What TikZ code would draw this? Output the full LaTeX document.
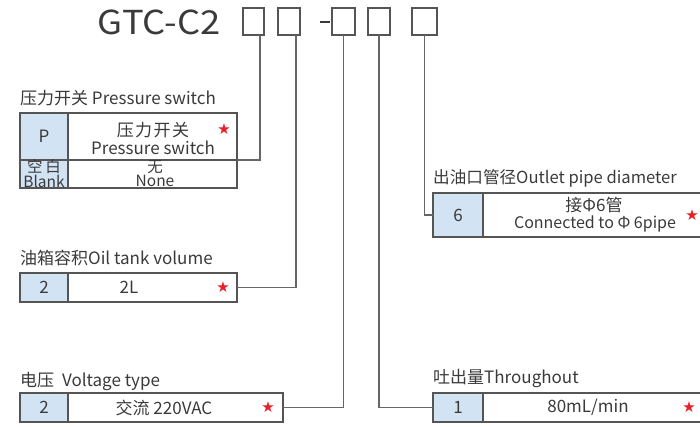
\documentclass[tikz,border=0pt]{standalone}
\usepackage{fontspec}
\setmainfont{Noto Sans CJK SC}
\newfontfamily\symfont{DejaVu Sans}
\definecolor{txt}{HTML}{3A3A3A}
\definecolor{bordercol}{HTML}{555555}
\definecolor{linecol}{HTML}{666666}
\definecolor{codeblue}{HTML}{D2E3F4}
\definecolor{starred}{HTML}{E8202A}
\tikzset{
  cell/.style={draw=bordercol, line width=1.2pt, inner sep=0pt, outer sep=0pt, anchor=north west, text=txt,
    align=center, font=\fontsize{17}{15}\selectfont},
  codecell/.style={cell, fill=codeblue},
  lbl/.style={anchor=west, inner sep=0pt, text=txt, font=\fontsize{17}{18}\selectfont},
  txtn/.style={inner sep=0pt, text=txt, align=center, font=\fontsize{17}{15}\selectfont},
  smalltxt/.style={inner sep=0pt, text=txt, align=center, font=\fontsize{15.5}{14}\selectfont},
  starn/.style={text=starred, inner sep=0pt, font=\symfont\fontsize{15}{12}\selectfont},
  conn/.style={draw=linecol, line width=1.1pt},
  digitbox/.style={draw=bordercol, line width=1.5pt, minimum width=#1, minimum height=27pt, inner sep=0pt, outer sep=0pt},
}
\begin{document}
\begin{tikzpicture}[x=1pt,y=-1pt]
\useasboundingbox (0,0) rectangle (700,426);
% title
\node[inner sep=0pt, text=txt, anchor=east, font=\fontsize{33}{33}\selectfont] (title) at (221,22) {\scalebox{1.1}[1]{GTC-C2}};
\node[digitbox=21pt] (b1) at (253.5,21.5) {};
\node[digitbox=22pt] (b2) at (289,21.5) {};
\node[fill=txt, inner sep=0pt, minimum width=10pt, minimum height=2pt] (dash) at (324.5,21.5) {};
\node[digitbox=23pt] (b3) at (343.5,21.5) {};
\node[digitbox=22pt] (b4) at (379,21.5) {};
\node[digitbox=25pt] (b5) at (424.5,21.5) {};

% pressure switch
\node[lbl] (plabel) at (20,98) {压力开关 Pressure switch};
\node[codecell, minimum width=48pt, minimum height=47pt] (pL1) at (20,113) {P};
\node[cell, minimum width=169pt, minimum height=47pt] (pR1) at (68,113) {};
\node[txtn] (pR1a) at (153,130) {压\hspace{1.5pt}力\hspace{1.5pt}开\hspace{1.5pt}关};
\node[txtn] (pR1b) at (153,148) {Pressure switch};
\node[starn] (ps) at (224,129) {★};
\node[codecell, minimum width=48pt, minimum height=28pt] (pL2) at (20,160) {};
\node[smalltxt] (pL2a) at (44,167) {空\hspace{3pt}白};
\node[smalltxt] (pL2b) at (44,181) {Blank};
\node[cell, minimum width=169pt, minimum height=28pt] (pR2) at (68,160) {};
\node[smalltxt] (pR2a) at (155,167) {无};
\node[smalltxt] (pR2b) at (155,181) {None};

% oil tank
\node[lbl] (olabel) at (20,258) {油箱容积Oil tank volume};
\node[codecell, minimum width=48pt, minimum height=29pt] (oL) at (20,273) {2};
\node[cell, minimum width=169pt, minimum height=29pt] (oR) at (68,273) {};
\node[txtn] (oRt) at (129,287.5) {2L};
\node[starn] (os) at (223,287.5) {★};

% voltage
\node[lbl] (vlabel) at (20,381) {电压\hspace{4pt} Voltage type};
\node[codecell, minimum width=48pt, minimum height=29pt] (vL) at (20,393) {2};
\node[cell, minimum width=215pt, minimum height=29pt] (vR) at (68,393) {};
\node[txtn] (vRt) at (164,407.5) {交流 220VAC};
\node[starn] (vs) at (268,407.5) {★};

% outlet pipe
\node[lbl, font=\fontsize{16.6}{18}\selectfont] (tlabel) at (433,178) {出油口管径Outlet pipe diameter};
\node[codecell, minimum width=50pt, minimum height=44pt] (tL) at (433,193) {6};
\node[cell, minimum width=240pt, minimum height=44pt] (tR) at (483,193) {};
\node[txtn] (tRa) at (594,205) {接Φ6管};
\node[txtn, font=\fontsize{16}{15}\selectfont] (tRb) at (595,224) {Connected to Φ 6pipe};
\node[starn] (ts) at (692,215) {★};

% throughput
\node[lbl] (hlabel) at (433,378) {吐出量Throughout};
\node[codecell, minimum width=50pt, minimum height=29pt] (hL) at (433,393) {1};
\node[cell, minimum width=240pt, minimum height=29pt] (hR) at (483,393) {};
\node[txtn] (hRt) at (588,407.5) {80mL/min};
\node[starn] (hs) at (689,407.5) {★};

% connectors
\draw[conn] ([xshift=6.5pt]b1.south) |- (pR1.south east);
\draw[conn] (oR.east) -| ([xshift=7pt]b2.south);
\draw[conn] (vR.east) -| (b3.south);
\draw[conn] (b4.south) |- (hL.west);
\draw[conn] (b5.south) |- (tL.west);
\end{tikzpicture}
\end{document}
